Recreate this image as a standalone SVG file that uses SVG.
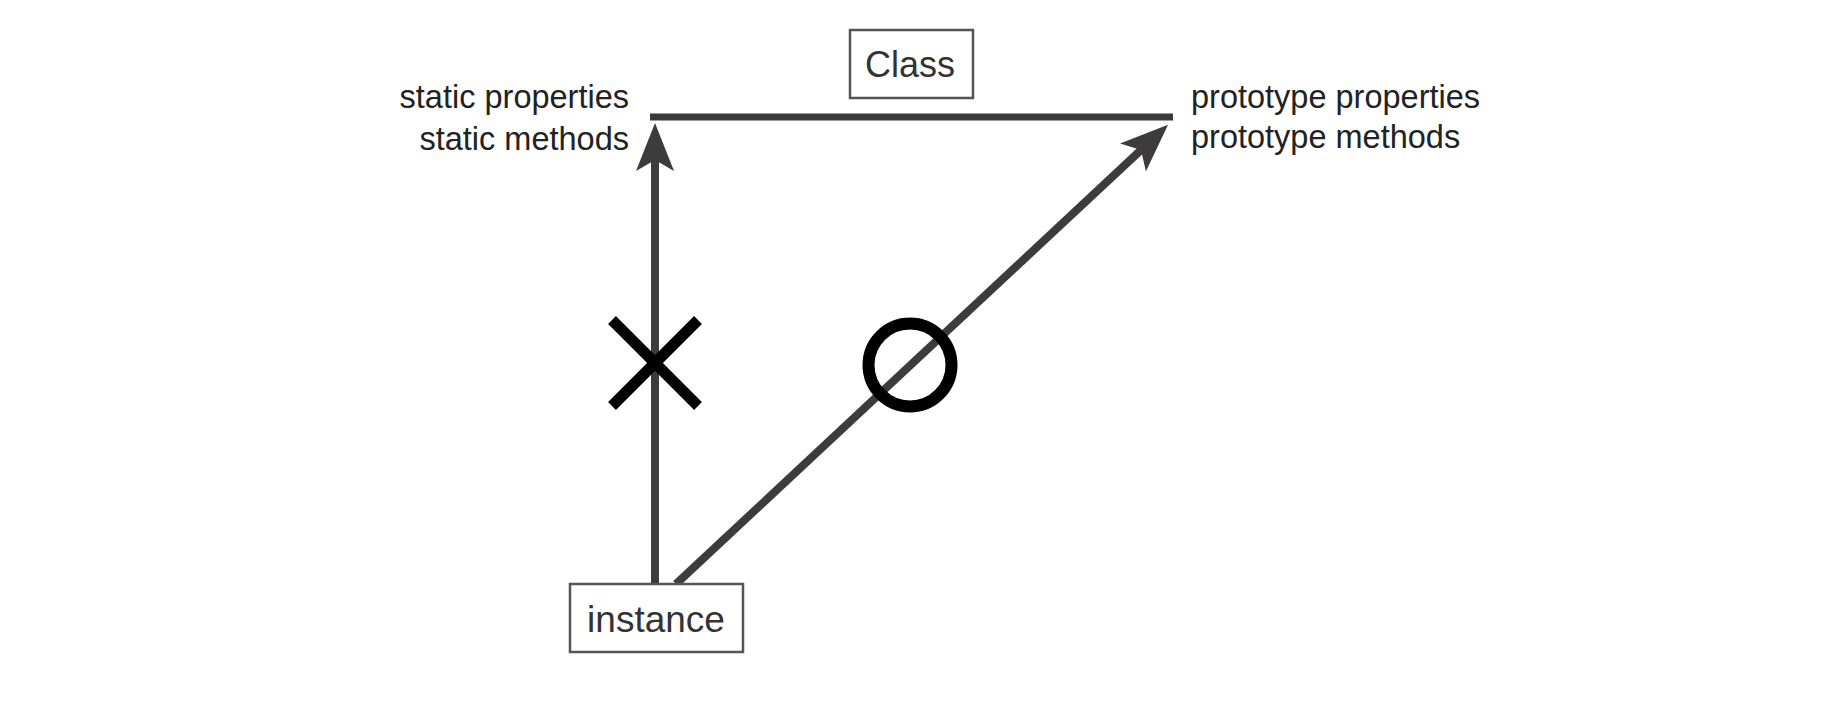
<svg xmlns="http://www.w3.org/2000/svg" width="1825" height="703" viewBox="0 0 1825 703">
  <style>
    .box { fill: #ffffff; stroke: #555555; stroke-width: 2.5; }
    .lbl { font-family: "Liberation Sans", Arial, sans-serif; font-size: 32.5px; fill: #222222; }
    .nodetxt { font-family: "Liberation Sans", Arial, sans-serif; fill: #333333; text-anchor: middle; }
    .conn { stroke: #3d3b3b; stroke-width: 8; fill: none; }
    .mark { stroke: #000000; fill: none; }
  </style>
  <defs>
    <marker id="arrow" viewBox="0 0 48 38" markerWidth="48" markerHeight="38" refX="11" refY="19" orient="auto" markerUnits="userSpaceOnUse">
      <path d="M48,19 L0,0 L11,19 L0,38 Z" fill="#3d3b3b"/>
    </marker>
  </defs>
  <rect width="1825" height="703" fill="#ffffff"/>

  <g id="class-bar">
    <line x1="650" y1="117" x2="1173" y2="117" stroke="#3a3838" stroke-width="7"/>
  </g>

  <g id="connectors">
    <line class="conn" x1="655" y1="584" x2="655" y2="160" marker-end="url(#arrow)"/>
    <line class="conn" x1="676" y1="584" x2="1141" y2="150" marker-end="url(#arrow)"/>
  </g>

  <g id="class">
    <rect class="box" x="850" y="30" width="123" height="68"/>
    <text class="nodetxt" x="910" y="77" font-size="36">Class</text>
  </g>

  <g id="static-labels">
    <text class="lbl" x="629" y="108" text-anchor="end">static properties</text>
    <text class="lbl" x="629" y="150" text-anchor="end">static methods</text>
  </g>

  <g id="prototype-labels">
    <text class="lbl" x="1191" y="108">prototype properties</text>
    <text class="lbl" x="1191" y="148">prototype methods</text>
  </g>

  <g id="instance">
    <rect class="box" x="570" y="584" width="173" height="68"/>
    <text class="nodetxt" x="656" y="632" font-size="37">instance</text>
  </g>

  <g id="cross-mark">
    <line class="mark" stroke-width="11" x1="612" y1="320" x2="698" y2="406"/>
    <line class="mark" stroke-width="11" x1="698" y1="320" x2="612" y2="406"/>
  </g>

  <g id="circle-mark">
    <circle class="mark" cx="910" cy="365" r="41.5" stroke-width="12"/>
  </g>
</svg>
